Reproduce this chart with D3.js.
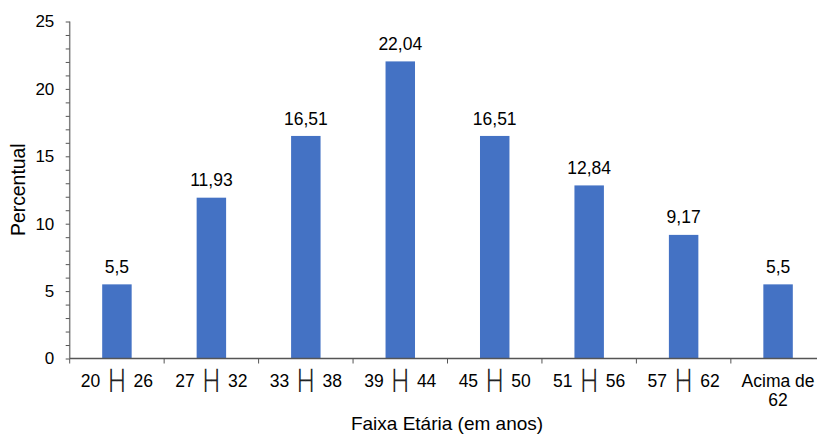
<!DOCTYPE html>
<html>
<head>
<meta charset="utf-8">
<script src="https://cdn.jsdelivr.net/npm/d3@7"></script>
<style>
  html, body { margin: 0; padding: 0; background: #fff; overflow: hidden; }
  svg { display: block; font-family: "Liberation Sans", Arial, sans-serif; }
</style>
</head>
<body>
<svg id="chart" width="817" height="434"></svg>
<script>
// Age bands (lower, upper) and the share of respondents in each, in percent
const categoryLows  = ["20", "27", "33", "39", "45", "51", "57", null];
const categoryHighs = ["26", "32", "38", "44", "50", "56", "62", null];
const lastCategory  = ["Acima de", "62"];
const percentValues = [5.5, 11.93, 16.51, 22.04, 16.51, 12.84, 9.17, 5.5];
const valueLabels   = ["5,5", "11,93", "16,51", "22,04", "16,51", "12,84", "9,17", "5,5"];
const yTicks = [0, 5, 10, 15, 20, 25];

const svg = d3.select("#chart");
const margin = { left: 69.7, top: 21.5, bottom: 75.5 };
const bandWidth = 94.45;
const plotH = 434 - margin.top - margin.bottom;

const ids = percentValues.map((d, i) => i);
const x = d3.scaleBand()
  .domain(ids)
  .range([margin.left, margin.left + bandWidth * ids.length])
  .paddingInner(0.688)
  .paddingOuter(0.344);
const y = d3.scaleLinear().domain([0, 25]).range([margin.top + plotH, margin.top]);

const g = svg.append("g");

// Bars
g.selectAll("rect.bar").data(percentValues).join("rect")
  .attr("class", "bar")
  .attr("x", (d, i) => x(i))
  .attr("y", d => y(d))
  .attr("width", x.bandwidth())
  .attr("height", d => y(0) - y(d))
  .attr("fill", "#4472C4");

// Value labels above bars
g.selectAll("text.val").data(percentValues).join("text")
  .attr("class", "val")
  .attr("x", (d, i) => x(i) + x.bandwidth() / 2)
  .attr("y", d => y(d) - 11.4)
  .attr("text-anchor", "middle")
  .attr("font-size", 17.5)
  .attr("fill", "#000")
  .text((d, i) => valueLabels[i]);

// Y axis with minor ticks every unit
const yAxis = d3.axisLeft(y)
  .tickValues(d3.range(0, 26, 1))
  .tickSize(4)
  .tickFormat(d => yTicks.includes(d) ? d : "");
const ya = svg.append("g")
  .attr("transform", `translate(${margin.left},0)`)
  .call(yAxis);
ya.select(".domain").attr("stroke", "#808080").attr("stroke-width", 1.5)
  .attr("d", `M0,${y(25)}V${y(0)}`);
ya.selectAll(".tick line").attr("stroke", "#555").attr("stroke-width", 1);
ya.selectAll(".tick text")
  .attr("x", -15.4)
  .attr("font-size", 17)
  .attr("font-family", "Liberation Sans, Arial, sans-serif")
  .attr("fill", "#000");

// X axis: band separators below the baseline
const bandEdges = d3.range(0, ids.length + 1).map(i => margin.left + i * bandWidth);
const xa = svg.append("g");
xa.append("line")
  .attr("x1", margin.left).attr("x2", 817)
  .attr("y1", y(0)).attr("y2", y(0))
  .attr("stroke", "#555").attr("stroke-width", 1.5);
xa.selectAll("line.sep").data(bandEdges).join("line")
  .attr("class", "sep")
  .attr("x1", d => d).attr("x2", d => d)
  .attr("y1", y(0)).attr("y2", y(0) + 5)
  .attr("stroke", "#555").attr("stroke-width", 1);

// Category labels
const labelY = 387;
ids.forEach(i => {
  const cx = x(i) + x.bandwidth() / 2;
  if (categoryLows[i] !== null) {
    const t = xa.append("text")
      .attr("x", cx).attr("y", labelY)
      .attr("text-anchor", "middle")
      .attr("font-size", 17.5).attr("fill", "#000");
    t.append("tspan").text(categoryLows[i] + " ");
    t.append("tspan")
      .attr("font-family", "DejaVu Sans")
      .attr("font-size", 19.5)
      .attr("fill", "#222")
      .text("\u251C\u2524");
    t.append("tspan").text(" " + categoryHighs[i]);
  } else {
    lastCategory.forEach((line, k) => {
      xa.append("text")
        .attr("x", cx).attr("y", labelY + k * 18.5)
        .attr("text-anchor", "middle")
        .attr("font-size", 17.5).attr("fill", "#000")
        .text(line);
    });
  }
});

// Axis titles
svg.append("text")
  .attr("x", 447).attr("y", 430)
  .attr("text-anchor", "middle")
  .attr("font-size", 19).attr("fill", "#000")
  .text("Faixa Etária (em anos)");

svg.append("text")
  .attr("transform", "translate(25,189.7) rotate(-90)")
  .attr("text-anchor", "middle")
  .attr("font-size", 19.4).attr("fill", "#000")
  .text("Percentual");
</script>
</body>
</html>
